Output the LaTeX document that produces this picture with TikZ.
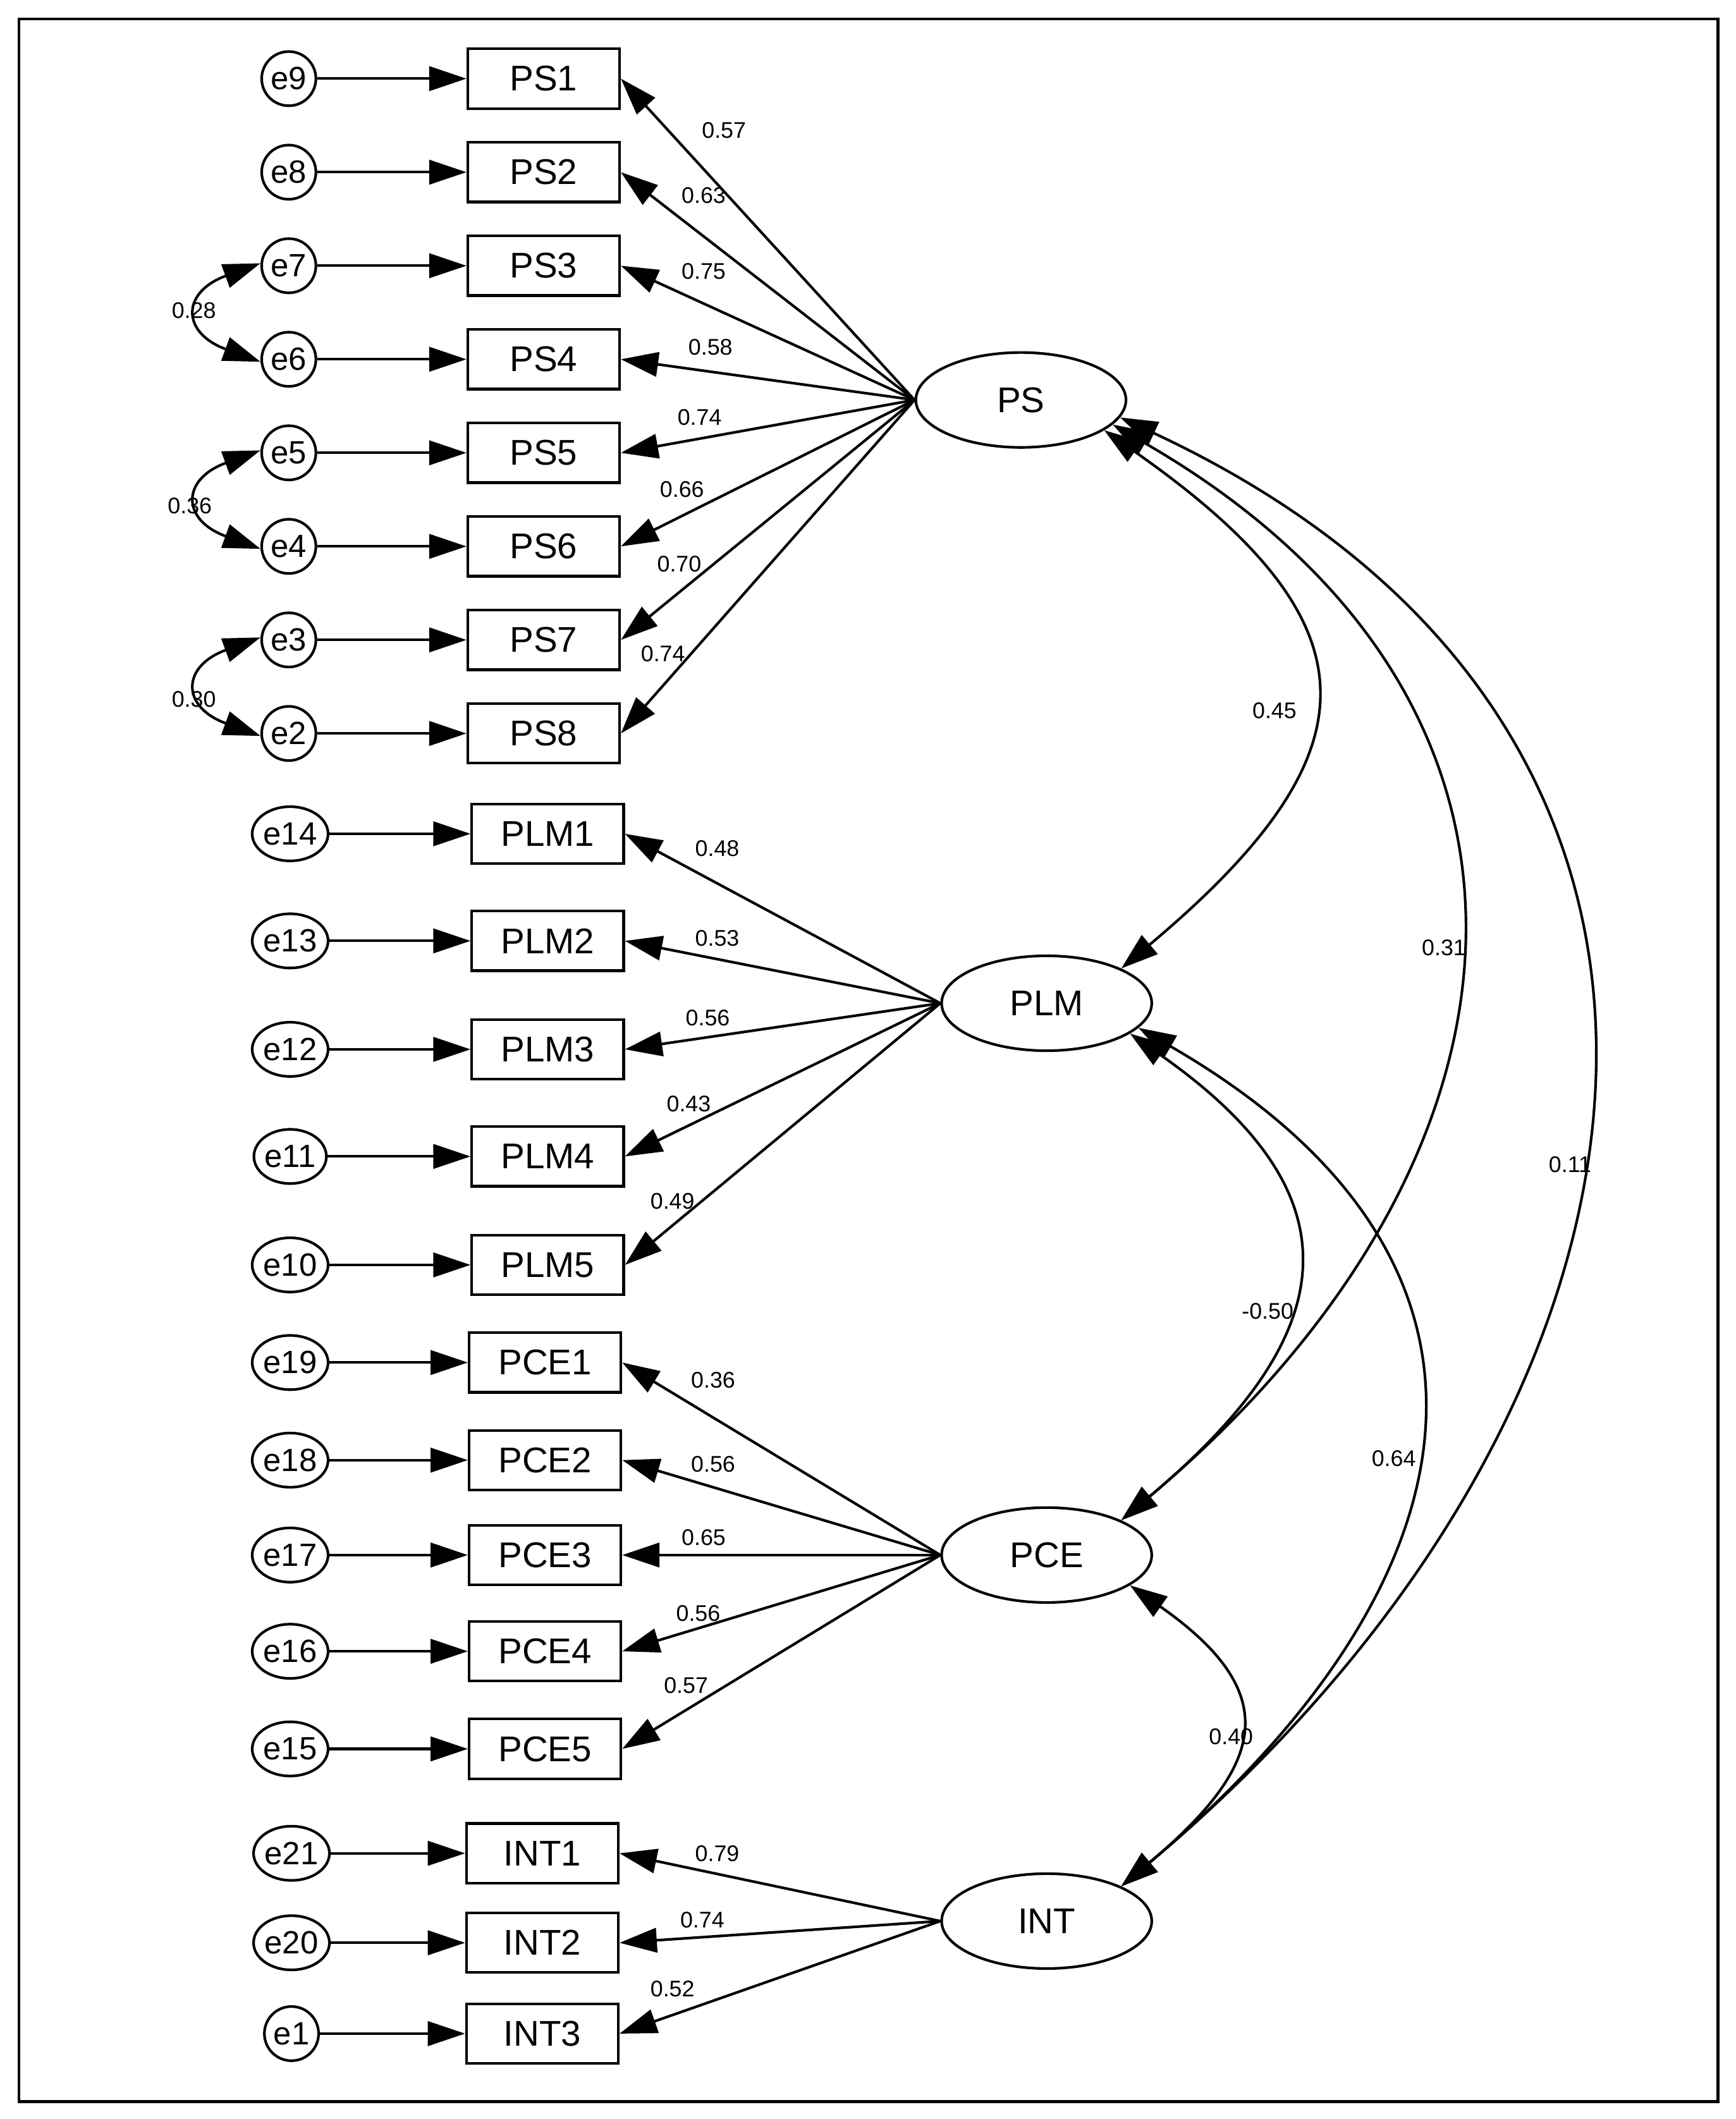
\documentclass[tikz,border=0pt]{standalone}
\usepackage{fontspec}
\setmainfont{Liberation Sans}
\usetikzlibrary{shapes.geometric,arrows.meta}
\begin{document}
\begin{tikzpicture}[x=0.02cm,y=-0.02cm,
 box/.style={draw,line width=1.1pt,minimum width=2.24cm,minimum height=0.88cm,inner sep=0pt,font=\fontsize{15}{15}\selectfont},
 err/.style={draw,ellipse,line width=1.1pt,minimum width=0.8cm,minimum height=0.8cm,inner sep=0pt,font=\fontsize{13.5}{13.5}\selectfont},
 errw/.style={err,minimum width=1.05cm},
 lat/.style={draw,ellipse,line width=1.1pt,minimum width=3.1cm,minimum height=1.4cm,font=\fontsize{15}{15}\selectfont},
 arr/.style={line width=1.1pt,-{Triangle[length=0.55cm,width=0.36cm]}},
 darr/.style={line width=1.1pt,{Triangle[length=0.55cm,width=0.36cm]}-{Triangle[length=0.55cm,width=0.36cm]}},
 lab/.style={font=\fontsize{9.5}{9.5}\selectfont,inner sep=1pt}]
\useasboundingbox (0,0) rectangle (1280,1563);
\draw[line width=1.3pt] (14,14) rectangle (1267,1550);
% latents
\node[lat] (PS) at (753,295) {PS};
\node[lat] (PLM) at (772,740) {PLM};
\node[lat] (PCE) at (772,1147) {PCE};
\node[lat] (INT) at (772,1417) {INT};
% PS
\foreach \i/\e/\y/\l/\lx/\ly in {1/9/58/0.57/534/96,2/8/127/0.63/519/144,3/7/196/0.75/519/200,4/6/265/0.58/524/256,5/5/334/0.74/516/308,6/4/403/0.66/503/361,7/3/472/0.70/501/416,8/2/541/0.74/489/482}{
 \node[box] (PS\i) at (401,\y) {PS\i};
 \node[err] (e\e) at (213,\y) {e\e};
 \draw[arr] (e\e) -- (PS\i);
 \draw[arr] (PS.180) -- (PS\i.east);
 \node[lab] at (\lx,\ly) {\l};
}
\foreach \i/\e/\y/\l/\lx/\ly in {1/14/615/0.48/529/626,2/13/694/0.53/529/692,3/12/774/0.56/522/751,4/11/853/0.43/508/814,5/10/933/0.49/496/886}{
 \node[box] (PLM\i) at (404,\y) {PLM\i};
 \node[errw] (e\e) at (214,\y) {e\e};
 \draw[arr] (e\e) -- (PLM\i);
 \draw[arr] (PLM.180) -- (PLM\i.east);
 \node[lab] at (\lx,\ly) {\l};
}
\foreach \i/\e/\y/\l/\lx/\ly in {1/19/1005/0.36/526/1018,2/18/1077/0.56/526/1080,3/17/1147/0.65/519/1134,4/16/1218/0.56/515/1190,5/15/1290/0.57/506/1243}{
 \node[box] (PCE\i) at (402,\y) {PCE\i};
 \node[errw] (e\e) at (214,\y) {e\e};
 \draw[arr] (e\e) -- (PCE\i);
 \draw[arr] (PCE.180) -- (PCE\i.east);
 \node[lab] at (\lx,\ly) {\l};
}
\foreach \i/\e/\y/\l/\lx/\ly/\s in {1/21/1367/0.79/529/1367/errw,2/20/1433/0.74/518/1416/errw,3/1/1500/0.52/496/1467/err}{
 \node[box] (INT\i) at (400,\y) {INT\i};
 \node[\s] (e\e) at (215,\y) {e\e};
 \draw[arr] (e\e) -- (INT\i);
 \draw[arr] (INT.180) -- (INT\i.east);
 \node[lab] at (\lx,\ly) {\l};
}
% error covariances
\draw[darr] (e7.175) to[out=200,in=160,looseness=2.2] (e6.185);
\node[lab] at (143,229) {0.28};
\draw[darr] (e5.175) to[out=200,in=160,looseness=2.2] (e4.185);
\node[lab] at (140,373) {0.36};
\draw[darr] (e3.175) to[out=200,in=160,looseness=2.2] (e2.185);
\node[lab] at (143,516) {0.30};
% latent covariances
\draw[darr] (PS.-20) to[out=-35,in=40,looseness=1.6] (PLM.25);
\node[lab] at (940,524) {0.45};
\draw[darr] (PS.-15) to[out=-30,in=40,looseness=1.3] (PCE.25);
\node[lab] at (1065,699) {0.31};
\draw[darr] (PS.-10) to[out=-25,in=40,looseness=1.3] (INT.25);
\node[lab] at (1158,859) {0.11};
\draw[darr] (PLM.-20) to[out=-35,in=40,looseness=1.5] (PCE.25);
\node[lab] at (935,967) {-0.50};
\draw[darr] (PLM.-15) to[out=-30,in=40,looseness=1.4] (INT.25);
\node[lab] at (1028,1076) {0.64};
\draw[darr] (PCE.-20) to[out=-35,in=40,looseness=1.6] (INT.25);
\node[lab] at (908,1281) {0.40};
\end{tikzpicture}
\end{document}
